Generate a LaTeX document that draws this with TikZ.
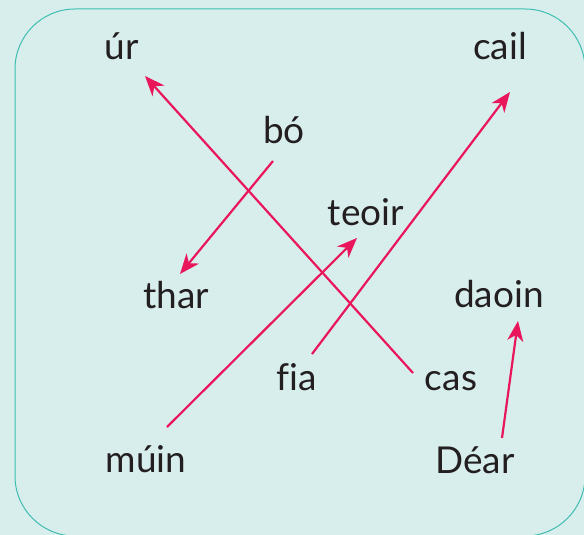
\documentclass[tikz,border=0pt]{standalone}
\usepackage{fontspec}
\setmainfont{Lato}[Ligatures=CommonOff]
\usetikzlibrary{arrows.meta}
\definecolor{fondo}{RGB}{216,238,236}
\definecolor{borde}{RGB}{62,190,176}
\definecolor{flechacol}{RGB}{233,22,92}
\definecolor{tinta}{RGB}{35,31,32}
\begin{document}
\begin{tikzpicture}[x=1pt, y=-1pt,
  palabra/.style={anchor=base, inner sep=0pt, text=tinta, font=\fontsize{37}{40}\selectfont},
  flecha/.style={flechacol, line width=2.2pt, -{Stealth[length=20pt, width=16pt, inset=6pt]}}]

% Fondo y marco redondeado
\fill[fondo] (0,0) rectangle (584,535);
\useasboundingbox (0,0) rectangle (584,535);
\draw[borde, line width=1pt, rounded corners=60pt] (15,9) rectangle (585,536);

% Palabras
\node[palabra] (ur) at (122,60) {úr};
\node[palabra] (cail) at (500,60) {cail};
\node[palabra] (bo) at (284,143) {bó};
\node[palabra] (teoir) at (366,225) {teoir};
\node[palabra] (thar) at (176,308) {thar};
\node[palabra] (daoin) at (499,307) {daoin};
\node[palabra] (fia) at (297,390) {fia};
\node[palabra] (cas) at (451,390) {cas};
\node[palabra] (muin) at (146,472) {múin};
\node[palabra] (dear) at (475,473) {Déar};

% Flechas entre palabras
\draw[flecha] ([shift={(-38,-17)}]cas.base) -- ([shift={(23,16)}]ur.base);
\draw[flecha] ([shift={(15,-36)}]fia.base) -- ([shift={(10,32)}]cail.base);
\draw[flecha] ([shift={(-11,18)}]bo.base) -- ([shift={(4,-34)}]thar.base);
\draw[flecha] ([shift={(21,-45)}]muin.base) -- ([shift={(-9,13)}]teoir.base);
\draw[flecha] ([shift={(27,-35)}]dear.base) -- ([shift={(19,14)}]daoin.base);

\end{tikzpicture}
\end{document}
